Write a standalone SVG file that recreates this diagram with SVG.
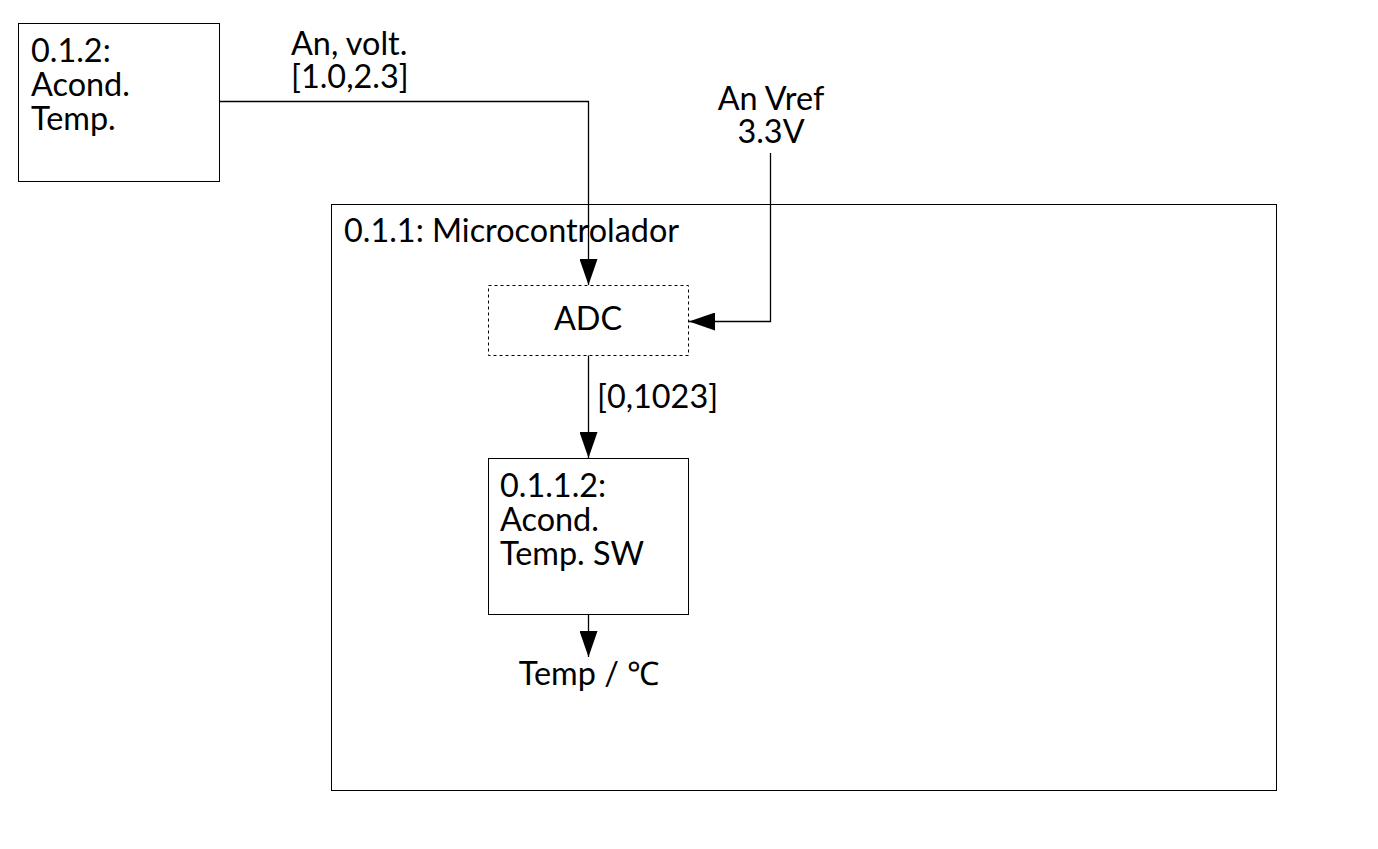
<svg xmlns="http://www.w3.org/2000/svg" width="1378" height="849" viewBox="0 0 1378 849">
<style>
.box{fill:#fff;stroke:#000;stroke-width:1}
.dash{fill:#fff;stroke:#000;stroke-width:1;stroke-dasharray:3 3}
.t{font-family:Lato,"Liberation Sans",sans-serif;font-size:32.4px;fill:#000}
.c{text-anchor:middle}
.ln{fill:none;stroke:#000;stroke-width:1.3}
</style>
<defs>
<marker id="ah" markerWidth="26" markerHeight="18" refX="26" refY="9" orient="auto" markerUnits="userSpaceOnUse">
<path d="M0,0 L26,9 L0,18 Z" fill="#000"/>
</marker>
</defs>
<rect width="1378" height="849" fill="#fff"/>
<g id="mcu">
<rect class="box" x="331.5" y="204.5" width="945" height="586"/>
<text class="t" x="344" y="242">0.1.1: Microcontrolador</text>
</g>
<g id="acond">
<rect class="box" x="18.5" y="23.5" width="201" height="158"/>
<text class="t" x="31" y="62">0.1.2:</text>
<text class="t" x="31" y="96">Acond.</text>
<text class="t" x="31" y="130">Temp.</text>
</g>
<g id="adc">
<rect class="dash" x="488.5" y="285.5" width="200" height="70"/>
<text class="t c" x="588" y="330">ADC</text>
</g>
<g id="sw">
<rect class="box" x="488.5" y="458.5" width="200" height="156"/>
<text class="t" x="500" y="497">0.1.1.2:</text>
<text class="t" x="500" y="531">Acond.</text>
<text class="t" x="500" y="565">Temp. SW</text>
</g>
<g id="labels">
<text class="t" x="291" y="55">An, volt.</text>
<text class="t" x="291" y="88">[1.0,2.3]</text>
<text class="t c" x="771" y="110">An Vref</text>
<text class="t c" x="771" y="143">3.3V</text>
<text class="t" x="597" y="408">[0,1023]</text>
<text class="t c" x="589" y="685">Temp / ℃</text>
</g>
<g id="connectors">
<path class="ln" d="M219.5,101.5 H588.5 V285" marker-end="url(#ah)"/>
<path class="ln" d="M770.5,153 V321.5 H689" marker-end="url(#ah)"/>
<path class="ln" d="M588.5,355.5 V458" marker-end="url(#ah)"/>
<path class="ln" d="M588.5,614.5 V657" marker-end="url(#ah)"/>
</g>
</svg>
